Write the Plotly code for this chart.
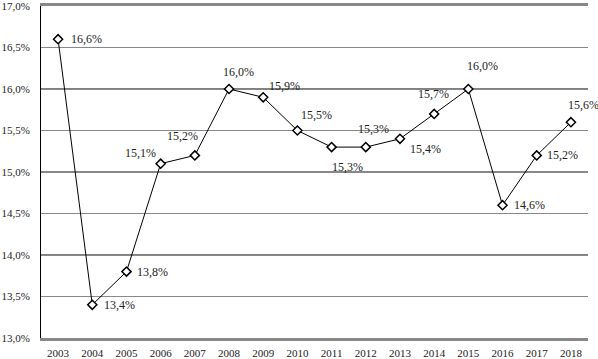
import plotly.graph_objects as go

years = [str(y) for y in range(2003, 2019)]
values = [16.6, 13.4, 13.8, 15.1, 15.2, 16.0, 15.9, 15.5, 15.3, 15.3, 15.4, 15.7, 16.0, 14.6, 15.2, 15.6]
labels = [f"{v:.1f}%".replace(".", ",") for v in values]
y_ticks = [13.0, 13.5, 14.0, 14.5, 15.0, 15.5, 16.0, 16.5, 17.0]
y_tick_labels = [f"{v:.1f}%".replace(".", ",") for v in y_ticks]

# label offsets (pixels) relative to each point, matching the reference placement
label_dx = [28, 27, 26, -20, -12, 9, 21, 19, 16, 8, 26, -1, 14, 27, 26, 13]
label_dy = [0, 0, 0, 11, 19, 17, 11, 16, -20, 18, -10, 20, 23, 0, 0, 17]

font = dict(family="Liberation Serif, DejaVu Serif, serif", size=12, color="#222")
ytick_font = dict(family="Liberation Serif, DejaVu Serif, serif", size=11, color="#222")

fig = go.Figure()
fig.add_trace(go.Scatter(
    x=years, y=values, mode="lines+markers",
    line=dict(color="black", width=1),
    marker=dict(symbol="diamond", size=7, color="white", line=dict(width=1.5, color="black")),
    cliponaxis=False, showlegend=False, hoverinfo="skip",
))

# category axis: annotation x given as the category index
for i, (v, lab, dx, dy) in enumerate(zip(values, labels, label_dx, label_dy)):
    fig.add_annotation(x=i, y=v, xref="x", yref="y", text=lab, showarrow=False,
                       xanchor="center", yanchor="middle",
                       xshift=dx, yshift=dy, font=font)

for v, c, w in [(16.0, "black", 1), (14.0, "black", 1), (15.0, "#888", 2)]:
    fig.add_hline(y=v, line=dict(color=c, width=w), layer="below")

fig.update_layout(
    width=598, height=359,
    margin=dict(l=41, r=10, t=6, b=21),
    plot_bgcolor="white", paper_bgcolor="white",
    font=font,
    xaxis=dict(type="category", range=[-0.5, 15.5], showgrid=False, automargin=False,
               showline=True, linecolor="#888", linewidth=3, mirror=True,
               ticks="", tickfont=ytick_font, ticklabelstandoff=3),
    yaxis=dict(range=[13.0, 17.0], tickvals=y_ticks, ticktext=y_tick_labels, automargin=False,
               showgrid=True, gridcolor="#888", gridwidth=1, zeroline=False,
               showline=True, linecolor="black", linewidth=1, ticklabeloverflow="allow",
               ticks="", tickfont=ytick_font, ticklabelstandoff=8),
)

fig.write_html("out.html", config={"displayModeBar": False},
               post_script="document.body.style.margin='0';")
